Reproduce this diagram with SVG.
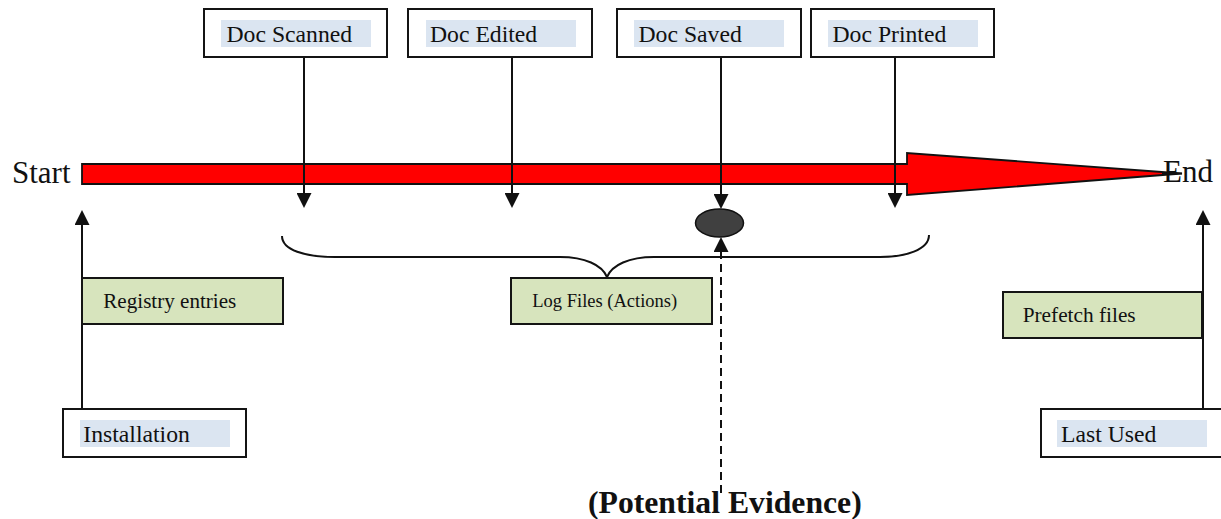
<svg xmlns="http://www.w3.org/2000/svg" width="1221" height="519" viewBox="0 0 1221 519">
  <style>
    .box { fill: #ffffff; stroke: #141414; stroke-width: 2; }
    .ev { fill: #d7e4bd; stroke: #141414; stroke-width: 2; }
    .hl { fill: #dbe5f1; }
    .lbl { font-family: "Liberation Serif", "Times New Roman", serif; font-size: 23.7px; fill: #111; }
    .small { font-family: "Liberation Serif", "Times New Roman", serif; fill: #111; }
    .big { font-family: "Liberation Serif", "Times New Roman", serif; font-size: 31px; fill: #111; }
    .wire { fill: none; stroke: #111; stroke-width: 2; }
    .dash { fill: none; stroke: #111; stroke-width: 2; stroke-dasharray: 8 5; }
  </style>
  <defs>
    <marker id="tri" viewBox="0 0 15 15" refX="7" refY="7.5" markerWidth="15" markerHeight="15" markerUnits="userSpaceOnUse" orient="auto">
      <path d="M0,0 L15,7.5 L0,15 Z" fill="#111"/>
    </marker>
  </defs>

  <rect width="1221" height="519" fill="#ffffff"/>

  <!-- timeline arrow -->
  <g id="timeline">
    <path d="M82,164 L907,164 L907,153 L1182,173.5 L907,195 L907,184 L82,184 Z" fill="#ff0000" stroke="#111" stroke-width="1.8" stroke-linejoin="miter"/>
    <text class="big" x="12" y="183">Start</text>
    <text class="big" x="1163" y="182">End</text>
    <line x1="1162" y1="173.5" x2="1182" y2="173.5" stroke="#111" stroke-width="1.5"/>
  </g>

  <!-- connectors -->
  <g id="connectors">
    <line class="wire" x1="304" y1="57" x2="304" y2="200" marker-end="url(#tri)"/>
    <line class="wire" x1="512" y1="57" x2="512" y2="200" marker-end="url(#tri)"/>
    <line class="wire" x1="721" y1="57" x2="721" y2="201" marker-end="url(#tri)"/>
    <line class="wire" x1="895" y1="57" x2="895" y2="200" marker-end="url(#tri)"/>
    <line class="wire" x1="82" y1="409" x2="82" y2="218" marker-end="url(#tri)"/>
    <line class="wire" x1="1203" y1="409" x2="1203" y2="218" marker-end="url(#tri)"/>
    <line class="dash" x1="721" y1="493" x2="721" y2="252"/>
    <line class="wire" x1="721" y1="252" x2="721" y2="245" marker-end="url(#tri)"/>
    <!-- brace grouping the logged actions -->
    <path class="wire" d="M282,236 C282,250 305,257 335,257 L560,257 C585,257 602,265 607,277 C612,265 629,257 654,257 L880,257 C905,257 929,250 929,235"/>
  </g>

  <g id="doc-scanned">
    <rect class="box" x="204" y="9" width="183" height="48"/>
    <rect class="hl" x="221" y="20" width="150" height="27"/>
    <text class="lbl" x="226.5" y="42">Doc Scanned</text>
  </g>
  <g id="doc-edited">
    <rect class="box" x="408" y="9" width="184" height="48"/>
    <rect class="hl" x="426" y="20" width="150" height="27"/>
    <text class="lbl" x="430" y="42">Doc Edited</text>
  </g>
  <g id="doc-saved">
    <rect class="box" x="617" y="9" width="184" height="48"/>
    <rect class="hl" x="634" y="20" width="150" height="27"/>
    <text class="lbl" x="638.5" y="42">Doc Saved</text>
  </g>
  <g id="doc-printed">
    <rect class="box" x="811" y="9" width="183" height="48"/>
    <rect class="hl" x="828" y="20" width="150" height="27"/>
    <text class="lbl" x="832.5" y="42">Doc Printed</text>
  </g>

  <g id="evidence-point">
    <ellipse cx="719.5" cy="223" rx="24" ry="14" fill="#404040" stroke="#111" stroke-width="1.5"/>
  </g>

  <g id="registry-entries">
    <rect class="ev" x="82" y="278" width="201" height="46"/>
    <text class="small" x="103.3" y="308.3" font-size="21.1">Registry entries</text>
  </g>
  <g id="log-files">
    <rect class="ev" x="511" y="278" width="201" height="46"/>
    <text class="small" x="532.3" y="307.3" font-size="18.5">Log Files (Actions)</text>
  </g>
  <g id="prefetch-files">
    <rect class="ev" x="1003" y="292" width="199" height="46"/>
    <text class="small" x="1022.7" y="321.7" font-size="21.3">Prefetch files</text>
  </g>

  <g id="installation">
    <rect class="box" x="63" y="409" width="183" height="48"/>
    <rect class="hl" x="80" y="420" width="150" height="27"/>
    <text class="lbl" x="83.3" y="441.7">Installation</text>
  </g>
  <g id="last-used">
    <rect class="box" x="1041" y="409" width="184" height="48"/>
    <rect class="hl" x="1057" y="420" width="150" height="27"/>
    <text class="lbl" x="1061" y="441.7">Last Used</text>
  </g>

  <g id="potential-evidence">
    <text x="588" y="513" font-family="'Liberation Serif', 'Times New Roman', serif" font-size="31.7" font-weight="bold" fill="#111">(Potential Evidence)</text>
  </g>
</svg>
